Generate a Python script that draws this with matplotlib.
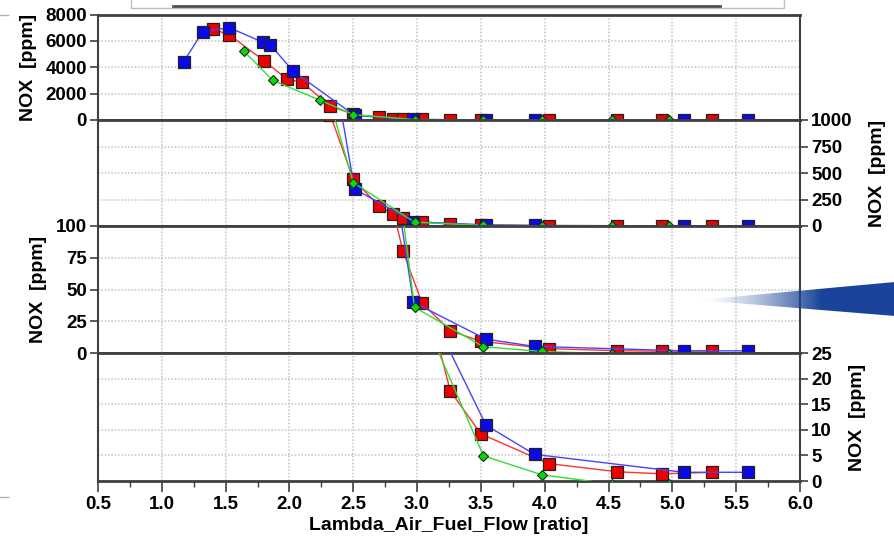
import matplotlib
matplotlib.use('Agg')
import matplotlib.pyplot as plt
import numpy as np
from matplotlib.patches import Polygon, Rectangle
from matplotlib.lines import Line2D

plt.rcParams['font.family'] = ['Liberation Sans', 'DejaVu Sans']
plt.rcParams['font.weight'] = 'bold'

# data
blue_x = [1.17, 1.32, 1.53, 1.79, 1.85, 2.03, 2.51, 2.97, 3.54, 3.92, 5.09, 5.59]
blue_y = [4400, 6700, 7000, 5900, 5700, 3700, 350, 40, 10.9, 5.2, 1.7, 1.7]
red_x = [1.40, 1.53, 1.80, 1.98, 2.10, 2.32, 2.50, 2.70, 2.81, 2.89, 3.04, 3.26,
         3.50, 4.03, 4.57, 4.92, 5.31]
red_y = [6900, 6450, 4500, 3100, 2850, 1050, 440, 190, 113, 80, 39, 17.6,
         9.2, 3.4, 1.8, 1.4, 1.7]
green_x = [1.64, 1.87, 2.24, 2.50, 2.98, 3.52, 3.98, 4.53, 4.97]
green_y = [5250, 3000, 1500, 410, 36, 4.9, 1.2, -0.6, -0.6]

# panels: (ylim top, tick step, side)
panels = [(8000, 2000, 'left'), (1000, 250, 'right'), (100, 25, 'left'), (25, 5, 'right')]
x_ticks = np.arange(0.5, 6.01, 0.5)
ylabel = 'NOX  [ppm]'
xlabel = 'Lambda_Air_Fuel_Flow [ratio]'

W, H = 895, 540
fig = plt.figure(figsize=(W / 100, H / 100), dpi=100)

edges = [14.5, 120, 226, 353, 481]
left, right = 98, 800
dark = '#404040'

for i, (ytop, step, side) in enumerate(panels):
    y0, y1 = edges[i], edges[i + 1]
    ax = fig.add_axes([left / W, 1 - y1 / H, (right - left) / W, (y1 - y0) / H])
    ax.set_xlim(0.5, 6.0)
    ax.set_ylim(0, ytop)
    ax.set_xticks(x_ticks)
    ax.set_yticks(np.arange(0, ytop + step / 2, step))
    ax.grid(True, color='#cccccc', linestyle=(0, (1, 1)), linewidth=1.2)
    ax.set_axisbelow(True)

    ax.plot(red_x, red_y, color='#ff3030', lw=1.0, marker='s', ms=8,
            mfc='#ee0000', mec='#222222', mew=0.9, zorder=3)
    ax.plot(blue_x, blue_y, color='#4444ff', lw=1.0, marker='s', ms=8,
            mfc='#0a0ae6', mec='#222222', mew=0.9, zorder=4)
    ax.plot(green_x, green_y, color='#33dd33', lw=1.0, marker='D', ms=5.5,
            mfc='#00dd00', mec='#222222', mew=0.8, zorder=5)

    for s in ['top', 'bottom']:
        ax.spines[s].set_linewidth(2.0)
        ax.spines[s].set_color(dark)
    for s in ['left', 'right']:
        ax.spines[s].set_linewidth(1.5)
        ax.spines[s].set_color(dark)

    if side == 'left':
        ax.yaxis.tick_left()
        ax.yaxis.set_label_position('left')
        pad = 6
    else:
        ax.yaxis.tick_right()
        ax.yaxis.set_label_position('right')
        pad = 12
    ax.tick_params(axis='y', direction='out', length=6, width=1.2, color=dark,
                   labelsize=13.5, pad=2)
    ax.set_ylabel(ylabel, fontsize=14, fontweight='bold', labelpad=pad)

    if i < 3:
        ax.tick_params(axis='x', length=0, labelbottom=False)
    else:
        ax.set_xticks(np.arange(0.5, 6.01, 0.25), minor=True)
        ax.tick_params(axis='x', which='major', direction='out', length=8,
                       width=1.2, color=dark, labelsize=13.5, pad=3)
        ax.tick_params(axis='x', which='minor', direction='out', length=4,
                       width=1.0, color=dark)
        ax.set_xticklabels([f'{v:.1f}' for v in x_ticks])
        ax.set_xlabel(xlabel, fontsize=14, fontweight='bold', labelpad=3)

# decorative overlay: clipped legend frame, blue wedge, side marks
ov = fig.add_axes([0, 0, 1, 1], zorder=10)
ov.axis('off')
ov.add_patch(Rectangle((131, -5), 653, 13, facecolor='white', edgecolor='#c0c0c0', lw=1))
ov.add_line(Line2D([173, 720], [6, 6], color='#505050', lw=2))
ov.add_line(Line2D([0, 8], [15, 15], color='#b0b0b0', lw=1))
ov.add_line(Line2D([0, 8], [497, 497], color='#b0b0b0', lw=1))

gx = np.linspace(0, 1, 200)
grad = np.zeros((2, 200, 4))
grad[..., 0] = 0.10
grad[..., 1] = 0.27
grad[..., 2] = 0.60
grad[..., 3] = np.clip(gx * 1.6, 0, 1) ** 1.5
wedge = Polygon([[698, 300], [895, 282], [895, 316]], closed=True,
                facecolor='none', edgecolor='none')
ov.add_patch(wedge)
im = ov.imshow(grad, extent=[698, 895, 316, 282], aspect='auto', interpolation='bilinear')
im.set_clip_path(wedge)
ov.set_xlim(0, W)
ov.set_ylim(H, 0)

fig.savefig('out.png', dpi=100)
